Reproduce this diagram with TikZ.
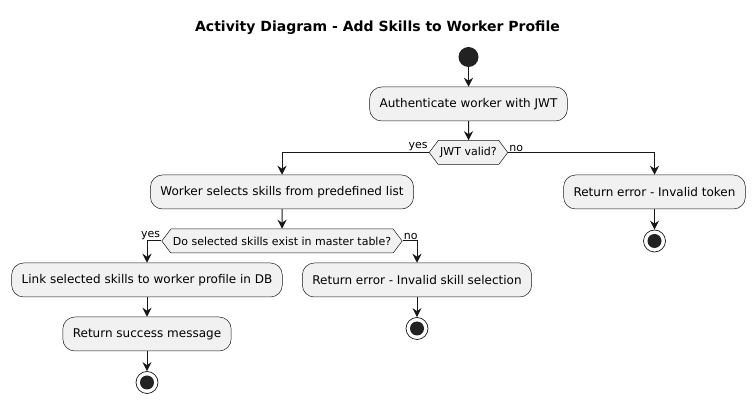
\documentclass[tikz,border=0pt]{standalone}
\usepackage{fontspec}
\setmainfont{DejaVu Sans}
\usetikzlibrary{arrows.meta,shapes.symbols,positioning}
\definecolor{boxfill}{HTML}{F1F1F1}
\definecolor{boxline}{HTML}{181818}
\definecolor{dotfill}{HTML}{222222}

\begin{document}
\begin{tikzpicture}[x=1pt,y=-1pt,
    act/.style={draw=boxline, line width=0.5pt, fill=boxfill, rounded corners=12pt, minimum height=34pt, inner xsep=10pt, font=\fontsize{12}{14}\selectfont},
    decision/.style={signal, signal to=west and east, signal pointer angle=106, draw=boxline, line width=0.5pt, fill=boxfill, minimum height=24pt, inner xsep=2pt, inner ysep=0pt, font=\fontsize{11}{13}\selectfont},
    startnode/.style={circle, fill=dotfill, minimum size=20pt, inner sep=0pt},
    stopnode/.style={circle, draw=boxline, line width=0.7pt, fill=white, minimum size=22pt, inner sep=0pt, path picture={\fill[dotfill] (path picture bounding box.center) circle (7pt);}},
    flow/.style={-{Stealth[length=9pt,width=9pt,inset=3pt]}, line width=1pt, draw=boxline},
    lbl/.style={font=\fontsize{11}{13}\selectfont, inner sep=0.8pt}]

    \useasboundingbox (0,0) rectangle (756,403);

    % Title
    \node[font=\fontsize{14}{16}\selectfont\bfseries] (title) at (377.5,28) {Activity Diagram - Add Skills to Worker Profile};

    % Start and authentication
    \node[startnode] (start) at (468.5,57) {};
    \node[act] (auth) at (468.5,104) {Authenticate worker with JWT};
    \node[decision] (jwt) at (468.5,152.5) {JWT valid?};

    % Token branch
    \node[act] (worker) at (282,192) {Worker selects skills from predefined list};
    \node[act] (errtoken) at (654.5,192) {Return error - Invalid token};
    \node[stopnode] (stoptoken) at (654.5,241) {};

    % Skill check
    \node[decision] (skillchk) at (282,241) {Do selected skills exist in master table?};
    \node[act] (link) at (147,280) {Link selected skills to worker profile in DB};
    \node[act] (errskill) at (417,280) {Return error - Invalid skill selection};
    \node[stopnode] (stopskill) at (417,328.5) {};
    \node[act] (success) at (147,334) {Return success message};
    \node[stopnode] (stopok) at (147,382.5) {};

    % Flows
    \draw[flow] (start) -- (auth);
    \draw[flow] (auth) -- (jwt);
    \draw[flow] (jwt.west) node[lbl, above left] {yes} -| (worker.north);
    \draw[flow] (jwt.east) node[lbl, above right] {no} -| (errtoken.north);
    \draw[flow] (errtoken) -- (stoptoken);
    \draw[flow] (worker) -- (skillchk);
    \draw[flow] (skillchk.west) node[lbl, above left] {yes} -| (link.north);
    \draw[flow] (skillchk.east) node[lbl, above right] {no} -| (errskill.north);
    \draw[flow] (errskill) -- (stopskill);
    \draw[flow] (link) -- (success);
    \draw[flow] (success) -- (stopok);

\end{tikzpicture}
\end{document}
